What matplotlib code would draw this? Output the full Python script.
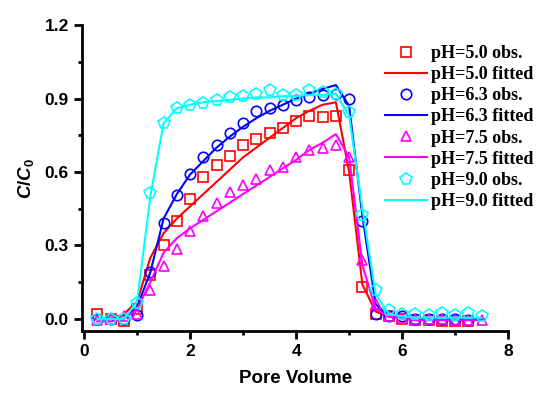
import numpy as np
import matplotlib
matplotlib.use("Agg")
import matplotlib.pyplot as plt

plt.rcParams['font.family'] = 'Liberation Sans'
plt.rcParams['font.weight'] = 'bold'
plt.rcParams['mathtext.fontset'] = 'custom'
plt.rcParams['mathtext.it'] = 'Liberation Sans:italic:bold'
plt.rcParams['mathtext.rm'] = 'Liberation Sans:bold'

# pore volume points (0.25 step)
pv = np.arange(1, 31) * 0.25

# observed C/C0
obs_50 = [0.02, 0.0, -0.01, 0.04, 0.18, 0.30, 0.40, 0.49, 0.58, 0.63, 0.665, 0.71, 0.735, 0.76, 0.78,
          0.81, 0.83, 0.825, 0.83, 0.61, 0.13, 0.02, 0.01, 0.0, -0.005, -0.005, -0.01, -0.01, -0.01]
obs_63 = [0.0, 0.0, 0.0, 0.015, 0.19, 0.39, 0.505, 0.59, 0.66, 0.71, 0.76, 0.80, 0.85, 0.86, 0.875,
          0.895, 0.905, 0.915, 0.92, 0.90, 0.40, 0.02, 0.01, 0.01, 0.0, 0.0, 0.0, 0.0, -0.005]
obs_75 = [-0.005, 0.0, 0.01, 0.02, 0.12, 0.215, 0.285, 0.36, 0.42, 0.475, 0.52, 0.545, 0.57, 0.61, 0.62,
          0.66, 0.69, 0.70, 0.71, 0.66, 0.24, 0.06, 0.01, 0.005, 0.0, 0.0, 0.0, -0.005, -0.005, -0.005]
obs_90 = [0.0, 0.0, 0.0, 0.065, 0.515, 0.80, 0.86, 0.875, 0.88, 0.895, 0.905, 0.91, 0.92, 0.935, 0.915,
          0.915, 0.935, 0.925, 0.92, 0.845, 0.425, 0.12, 0.035, 0.02, 0.02, 0.015, 0.025, 0.015, 0.025, 0.01]

# fitted C/C0
fit_50 = [0.0, 0.0, 0.02, 0.07, 0.25, 0.35, 0.41, 0.46, 0.51, 0.56, 0.61, 0.66, 0.70, 0.74, 0.78,
          0.82, 0.85, 0.875, 0.885, 0.60, 0.14, 0.03, 0.01, 0.005, 0.0, 0.0, 0.0, 0.0, 0.0, 0.0]
fit_63 = [0.0, 0.0, 0.0, 0.05, 0.19, 0.41, 0.51, 0.59, 0.645, 0.70, 0.745, 0.785, 0.82, 0.85, 0.875,
          0.90, 0.92, 0.94, 0.955, 0.87, 0.42, 0.06, 0.01, 0.005, 0.0, 0.0, 0.0, 0.0, 0.0, 0.0]
fit_75 = [-0.01, -0.01, 0.0, 0.04, 0.15, 0.27, 0.33, 0.37, 0.405, 0.44, 0.475, 0.51, 0.545, 0.58, 0.615,
          0.65, 0.69, 0.72, 0.755, 0.66, 0.22, 0.04, 0.01, 0.0, -0.005, -0.005, -0.005, -0.005, -0.005, -0.005]
fit_90 = [0.0, 0.0, 0.0, 0.07, 0.50, 0.80, 0.86, 0.875, 0.885, 0.89, 0.895, 0.90, 0.905, 0.905, 0.91,
          0.91, 0.915, 0.915, 0.92, 0.83, 0.45, 0.10, 0.02, 0.01, 0.005, 0.005, 0.005, 0.005, 0.005, 0.005]

fig = plt.figure(figsize=(5.5, 3.99), dpi=100)
ax = fig.add_axes([0.149, 0.170, 0.775, 0.767])

ms = 7.5
ax.plot(pv[:len(obs_50)], obs_50, 's', mfc='none', mec='#ff0000', mew=1.2, ms=ms, label='pH=5.0 obs.')
ax.plot(pv, fit_50, '-', color='#ff0000', lw=1.5, label='pH=5.0 fitted')
ax.plot(pv[:len(obs_63)], obs_63, 'o', mfc='none', mec='#0000ff', mew=1.2, ms=ms, label='pH=6.3 obs.')
ax.plot(pv, fit_63, '-', color='#0000ff', lw=1.5, label='pH=6.3 fitted')
ax.plot(pv, obs_75, '^', mfc='none', mec='#ff00ff', mew=1.2, ms=ms, label='pH=7.5 obs.')
ax.plot(pv, fit_75, '-', color='#ff00ff', lw=1.5, label='pH=7.5 fitted')
ax.plot(pv, obs_90, 'p', mfc='none', mec='#00ffff', mew=1.2, ms=ms + 1, label='pH=9.0 obs.')
ax.plot(pv, fit_90, '-', color='#00ffff', lw=1.5, label='pH=9.0 fitted')

ax.set_xlim(-0.04, 8)
ax.set_ylim(-0.05, 1.2)
ax.set_xticks([0, 2, 4, 6, 8])
ax.set_xticks([1, 3, 5, 7], minor=True)
ax.set_yticks([0.0, 0.3, 0.6, 0.9, 1.2])
ax.set_yticks([0.15, 0.45, 0.75, 1.05], minor=True)
ax.set_yticklabels(['0.0', '0.3', '0.6', '0.9', '1.2'])

for s in ['top', 'right']:
    ax.spines[s].set_visible(False)
for s in ['left', 'bottom']:
    ax.spines[s].set_linewidth(2)
ax.tick_params(which='major', direction='out', length=6, width=2, labelsize=12.5)
ax.tick_params(which='minor', direction='out', length=3, width=2)

ax.set_xlabel('Pore Volume', fontsize=13.5, fontweight='bold', labelpad=8)
ax.set_ylabel(r'$C/C_\mathrm{0}$', fontsize=13.5, labelpad=6)

ax.legend(loc='upper right', bbox_to_anchor=(1.06, 0.935), frameon=False, handlelength=2.3,
          labelspacing=0.23, handletextpad=0.25, borderaxespad=0, borderpad=0,
          prop={'family': 'Liberation Serif', 'weight': 'bold', 'size': 13})

fig.savefig('out.png', dpi=100)
